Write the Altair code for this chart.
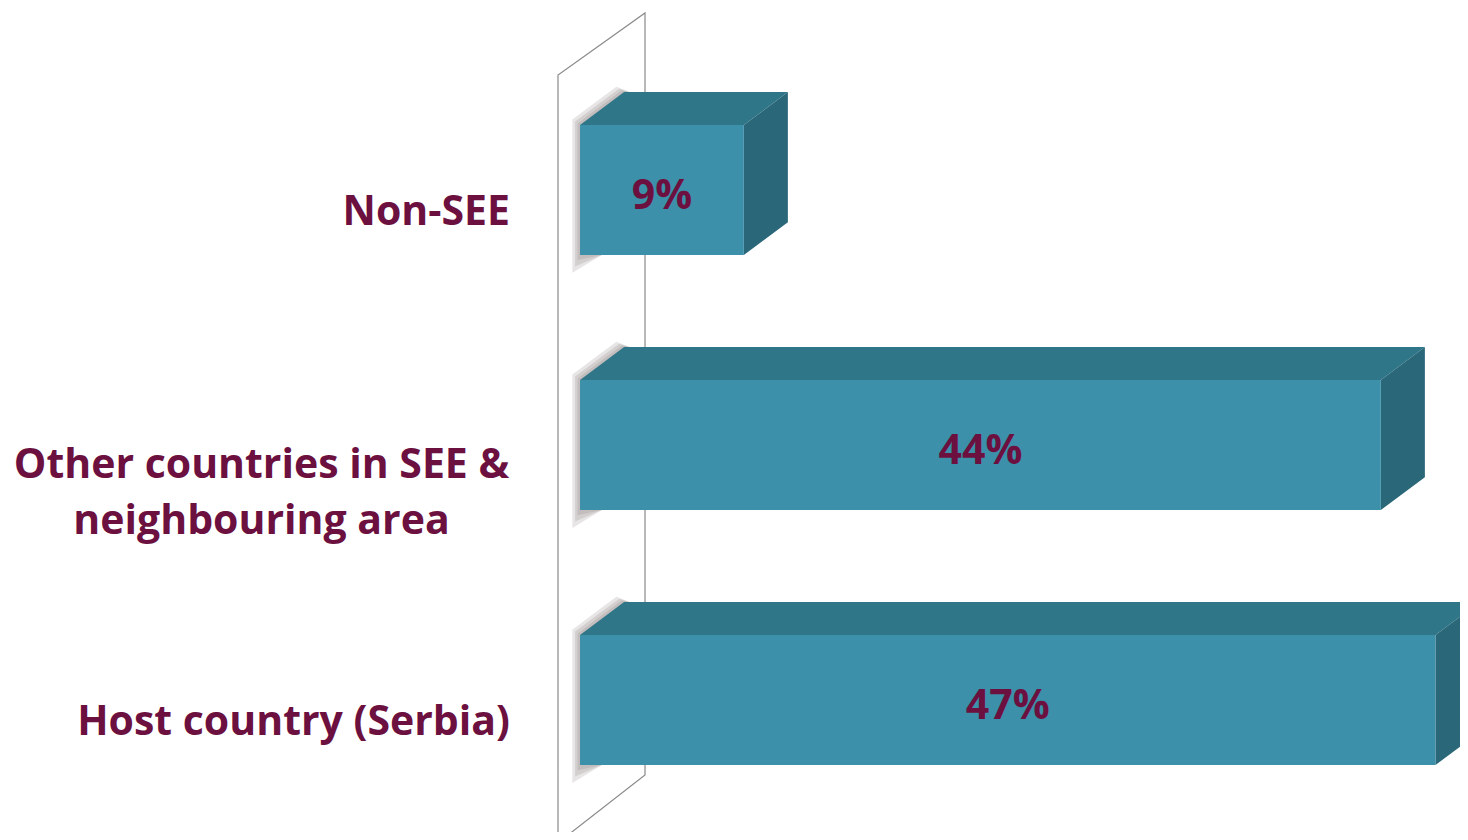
import altair as alt
import pandas as pd

# ---- data ----
categories = ["Host country (Serbia)", "Other countries in SEE & neighbouring area", "Non-SEE"]
label_lines = [["Host country (Serbia)"], ["Other countries in SEE &", "neighbouring area"], ["Non-SEE"]]
values = [47, 44, 9]
value_labels = ["47%", "44%", "9%"]

# ---- geometry parameters (in data units) ----
HALF = 0.255   # half bar thickness (slot units)
DX = 2.42      # 3D depth along x (percent units)
DY = 0.129     # 3D depth along y (slot units)
SHADOW_STEPS = [(0.42, 0.07), (0.27, 0.045), (0.13, 0.02)]  # soft shadow spread (x, y)

front_rows, top_rows, side_rows, shadow_rows = [], [], [], []
for i, (c, v, vl) in enumerate(zip(categories, values, value_labels)):
    yt, yb = i + HALF, i - HALF
    front_rows.append(dict(cat=c, x0=0, x1=v, y0=yb, y1=yt, xm=v / 2, ym=i, vl=vl))
    for k, (px, lo, hi) in enumerate([(0, yt, yt), (DX, yt, yt + DY), (v, yt, yt + DY), (v + DX, yt + DY, yt + DY)]):
        top_rows.append(dict(cat=c, x=px, lo=lo, hi=hi, k=k))
    for k, (px, lo, hi) in enumerate([(v, yb, yt), (v + DX, yb + DY, yt + DY)]):
        side_rows.append(dict(cat=c, x=px, lo=lo, hi=hi, k=k))
    for s, (ex, ey) in enumerate(SHADOW_STEPS):
        grp = f"{c}-{s}"
        pts = [
            (-ex, yb - ey, yt + ey * 0.3),
            (1.2, yb, yt + (1.2 + ex) / DX * DY + ey * 0.3),
            (DX - ex, yb, yt + DY + ey * 0.3),
            (DX + 0.3, yb, yt + DY),
        ]
        for px, lo, hi in pts:
            shadow_rows.append(dict(grp=grp, x=px, lo=lo, hi=hi))

label_single = [dict(lab=l[0], ym=i) for i, l in enumerate(label_lines) if len(l) == 1]
label_multi = [dict(lab="\n".join(l), ym=i) for i, l in enumerate(label_lines) if len(l) > 1]

# wall outline (back plane behind the bars)
wall_x = [-1.21, -1.21, 3.57, 3.57, -1.21]
wall_y = [-0.56, 2.451, 2.694, -0.294, -0.56]
wall = pd.DataFrame(dict(x=wall_x, y=wall_y, o=range(len(wall_x))))

front = pd.DataFrame(front_rows)
top = pd.DataFrame(top_rows)
side = pd.DataFrame(side_rows)
shadow = pd.DataFrame(shadow_rows)

xs = alt.Scale(domain=[-31.43, 48.35], nice=False, zero=False)
ys = alt.Scale(domain=[-0.5176, 2.7137], nice=False, zero=False)

FRONT = "#3c90a9"
TOP = "#2f7688"
SIDE = "#2a6779"
MAROON = "#6c1040"
FONT = "Open Sans"
FS = 41

wall_layer = alt.Chart(wall).mark_line(color="#8a8a8a", strokeWidth=1.2).encode(
    x=alt.X("x:Q", scale=xs, axis=None),
    y=alt.Y("y:Q", scale=ys, axis=None),
    order="o:Q",
)

shadow_layer = alt.Chart(shadow).mark_area(color="#7a7070", opacity=0.18, orient="vertical").encode(
    x=alt.X("x:Q", scale=xs, axis=None),
    y=alt.Y("lo:Q", scale=ys, axis=None, stack=False),
    y2="hi:Q",
    detail="grp:N",
)

top_layer = alt.Chart(top).mark_area(color=TOP, orient="vertical").encode(
    x=alt.X("x:Q", scale=xs, axis=None),
    y=alt.Y("lo:Q", scale=ys, axis=None, stack=False),
    y2="hi:Q",
    detail="cat:N",
)

side_layer = alt.Chart(side).mark_area(color=SIDE, orient="vertical").encode(
    x=alt.X("x:Q", scale=xs, axis=None),
    y=alt.Y("lo:Q", scale=ys, axis=None, stack=False),
    y2="hi:Q",
    detail="cat:N",
)

front_layer = alt.Chart(front).mark_rect(color=FRONT).encode(
    x=alt.X("x0:Q", scale=xs, axis=None), x2="x1:Q",
    y=alt.Y("y0:Q", scale=ys, axis=None), y2="y1:Q",
)

value_text = alt.Chart(front).mark_text(
    font=FONT, fontSize=FS, fontWeight="bold", color=MAROON, dy=7
).encode(
    x=alt.X("xm:Q", scale=xs, axis=None),
    y=alt.Y("ym:Q", scale=ys, axis=None),
    text="vl:N",
)

lab1 = alt.Chart(pd.DataFrame(label_single)).mark_text(
    font=FONT, fontSize=FS, fontWeight="bold", color=MAROON, align="right", dy=23
).encode(
    x=alt.datum(-3.85, scale=xs),
    y=alt.Y("ym:Q", scale=ys, axis=None),
    text="lab:N",
)

lab2 = alt.Chart(pd.DataFrame(label_multi)).mark_text(
    font=FONT, fontSize=FS, fontWeight="bold", color=MAROON, align="center",
    lineBreak="\n", lineHeight=56, dy=21
).encode(
    x=alt.datum(-17.5, scale=xs),
    y=alt.Y("ym:Q", scale=ys, axis=None),
    text="lab:N",
)

chart = alt.layer(
    wall_layer, shadow_layer, top_layer, side_layer, front_layer, value_text, lab1, lab2
).properties(
    width=1452, height=824,
    autosize=alt.AutoSizeParams(type="none"),
    padding=0,
    background="white",
).configure_view(stroke=None)

chart.save("out.html", embed_options={"renderer": "svg", "actions": False})
